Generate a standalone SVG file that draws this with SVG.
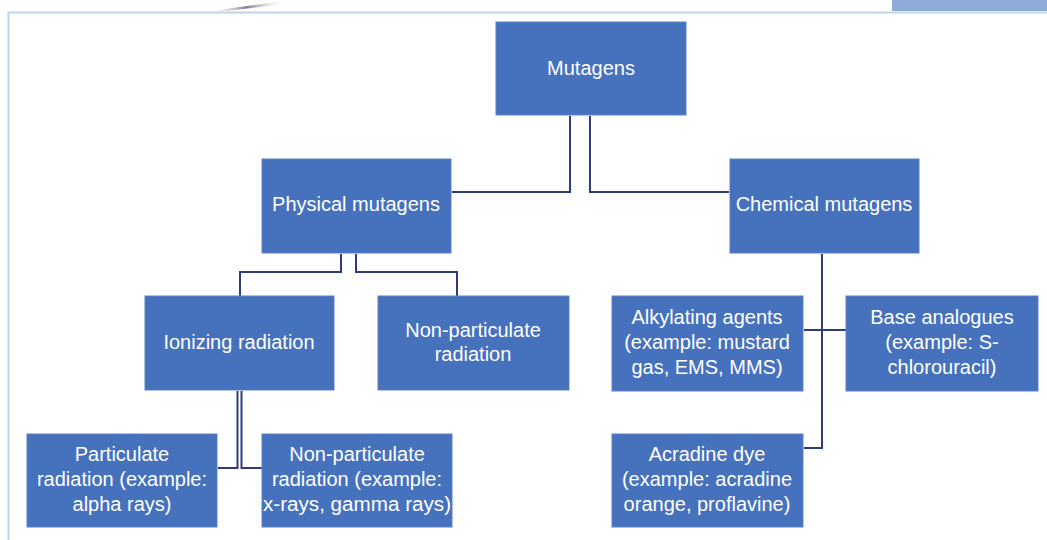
<svg xmlns="http://www.w3.org/2000/svg" width="1047" height="540" viewBox="0 0 1047 540">
<defs>
<linearGradient id="sw" x1="0" y1="0" x2="1" y2="0">
<stop offset="0" stop-color="#ffffff" stop-opacity="0"/>
<stop offset="0.5" stop-color="#6b5a6e"/>
<stop offset="1" stop-color="#ffffff" stop-opacity="0"/>
</linearGradient>
</defs>
<style>
.box{fill:#4671bd;stroke:#5a82c8;stroke-width:1}
.t{fill:#ffffff;font-family:"Liberation Sans",Arial,sans-serif;font-size:20px;text-anchor:middle}
.c{fill:none;stroke:#2e3d7a;stroke-width:2}
</style>
<rect width="1047" height="540" fill="#ffffff"/>
<path d="M205 12 Q245 6 285 1 L288 3 Q250 9 215 12 Z" fill="url(#sw)" opacity="0.8"/>
<rect x="892" y="0" width="155" height="11" fill="#8eaad6"/>
<path d="M8.5 540 V12.5 H1047" fill="none" stroke="#bcd6ee" stroke-width="2"/>
<g id="connectors">
<path class="c" d="M570 116 V192 H452"/>
<path class="c" d="M590 116 V192 H729"/>
<path class="c" d="M341 254 V272 H240 V296"/>
<path class="c" d="M356 254 V272 H457 V296"/>
<path class="c" d="M237.5 391 V468 H218"/>
<path class="c" d="M241.5 391 V468 H262"/>
<path class="c" d="M822 254 V448 H804"/>
<path class="c" d="M804 330 H846"/>
</g>
<g id="mutagens"><rect class="box" x="496" y="22" width="190" height="93"/><text class="t" x="591" y="75">Mutagens</text></g>
<g id="physical"><rect class="box" x="262" y="159" width="189" height="94"/><text class="t" x="356" y="211">Physical mutagens</text></g>
<g id="chemical"><rect class="box" x="730" y="159" width="189" height="94"/><text class="t" x="824" y="211">Chemical mutagens</text></g>
<g id="ionizing"><rect class="box" x="145" y="296" width="189" height="94"/><text class="t" x="239" y="349">Ionizing radiation</text></g>
<g id="nonpart"><rect class="box" x="378" y="296" width="191" height="94"/><text class="t" x="473" y="337">Non-particulate</text><text class="t" x="473" y="361">radiation</text></g>
<g id="alkylating"><rect class="box" x="612" y="296" width="191" height="95"/><text class="t" x="707" y="324">Alkylating agents</text><text class="t" x="707" y="349">(example: mustard</text><text class="t" x="707" y="374">gas, EMS, MMS)</text></g>
<g id="base"><rect class="box" x="846" y="296" width="192" height="95"/><text class="t" x="942" y="324">Base analogues</text><text class="t" x="942" y="349">(example: S-</text><text class="t" x="942" y="374">chlorouracil)</text></g>
<g id="acradine"><rect class="box" x="612" y="434" width="191" height="93"/><text class="t" x="707" y="461">Acradine dye</text><text class="t" x="707" y="486">(example: acradine</text><text class="t" x="707" y="511">orange, proflavine)</text></g>
<g id="particulate"><rect class="box" x="27" y="434" width="190" height="93"/><text class="t" x="122" y="461">Particulate</text><text class="t" x="122" y="486">radiation (example:</text><text class="t" x="122" y="511">alpha rays)</text></g>
<g id="nonpartex"><rect class="box" x="262" y="434" width="190" height="93"/><text class="t" x="357" y="461">Non-particulate</text><text class="t" x="357" y="486">radiation (example:</text><text class="t" x="357" y="511" textLength="188" lengthAdjust="spacingAndGlyphs">x-rays, gamma rays)</text></g>
</svg>
